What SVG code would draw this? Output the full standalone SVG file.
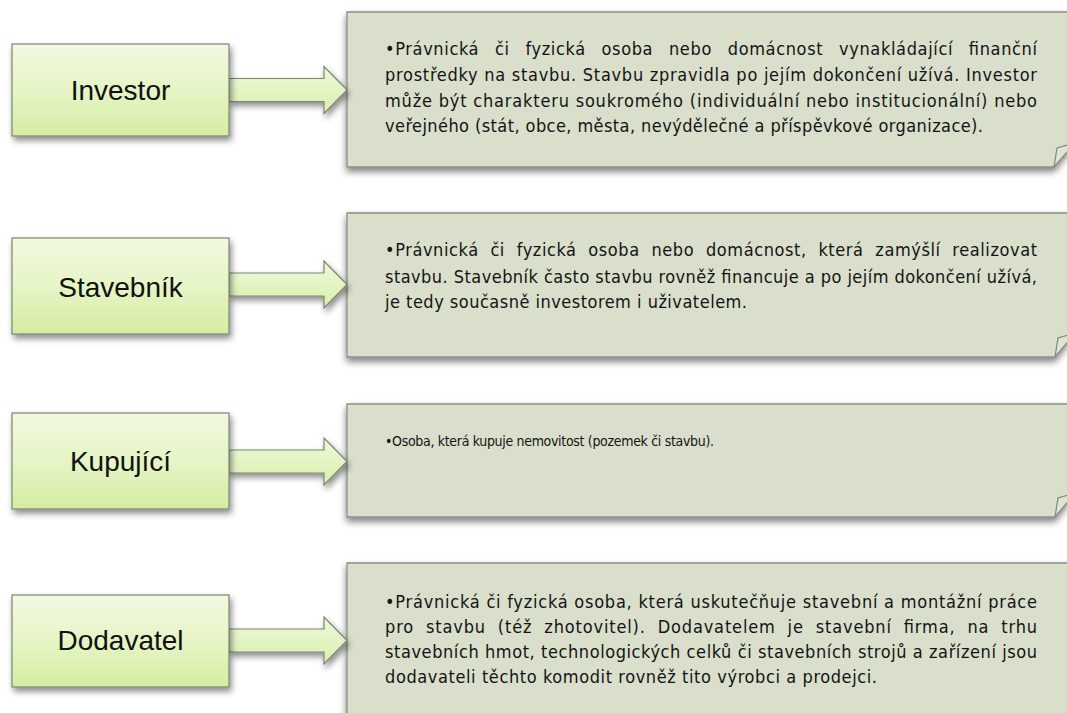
<svg xmlns="http://www.w3.org/2000/svg" width="1067" height="713" viewBox="0 0 1067 713">
  <defs>
    <linearGradient id="labelFill" x1="0" y1="0" x2="0" y2="1">
      <stop offset="0" stop-color="#f1f9e1"/>
      <stop offset="0.5" stop-color="#e6f5c6"/>
      <stop offset="1" stop-color="#d4eda2"/>
    </linearGradient>
    <linearGradient id="arrowFill" x1="0" y1="0" x2="0" y2="1">
      <stop offset="0" stop-color="#eef8da"/>
      <stop offset="1" stop-color="#d9f0ad"/>
    </linearGradient>
    <filter id="shadow" x="-10%" y="-20%" width="130%" height="160%">
      <feDropShadow dx="2" dy="4" stdDeviation="3" flood-color="#000" flood-opacity="0.45"/>
    </filter>
    <filter id="noteShadow" x="-5%" y="-10%" width="115%" height="130%">
      <feDropShadow dx="0" dy="4" stdDeviation="3.5" flood-color="#000" flood-opacity="0.5"/>
    </filter>
  </defs>
  <style>
    .label { fill: url(#labelFill); stroke: #7b8670; stroke-width: 1.2; filter: url(#shadow); }
    .arrow { fill: url(#arrowFill); stroke: #7b8670; stroke-width: 1.2; filter: url(#shadow); }
    .note { fill: #d9dfcb; stroke: #8b8e86; stroke-width: 1.3; filter: url(#noteShadow); }
    .fold { fill: #dfe4d3; stroke: #85877f; stroke-width: 1.2; }
    .lt { font-family: "Liberation Sans", Arial, sans-serif; font-size: 28px; fill: #111; text-anchor: middle; }
    .nt { font-family: "DejaVu Sans Condensed", "DejaVu Sans", sans-serif; font-stretch: condensed; font-size: 18px; fill: #141414; }
    .small { font-size: 14px; }
  </style>

  <rect width="1067" height="713" fill="#ffffff"/>

  <!-- description panels -->
  <g id="note-investor">
    <path class="note" d="M347,12 H1075 V141 L1054,167 H347 Z"/>
    <path class="fold" d="M1054,167 L1057,148 L1075,143 Z"/>
    <text class="nt" x="385" y="55" word-spacing="10" textLength="652" lengthAdjust="spacing">•Právnická či fyzická osoba nebo domácnost vynakládající finanční</text>
    <text class="nt" x="385" y="81" textLength="652" lengthAdjust="spacing">prostředky na stavbu. Stavbu zpravidla po jejím dokončení užívá. Investor</text>
    <text class="nt" x="385" y="106.5" textLength="652" lengthAdjust="spacing">může být charakteru soukromého (individuální nebo institucionální) nebo</text>
    <text class="nt" x="385" y="132" textLength="598" lengthAdjust="spacing">veřejného (stát, obce, města, nevýdělečné a příspěvkové organizace).</text>
  </g>

  <g id="note-stavebnik">
    <path class="note" d="M347,213 H1075 V331 L1055,357 H347 Z"/>
    <path class="fold" d="M1055,357 L1058,338 L1075,333 Z"/>
    <text class="nt" x="385" y="256" word-spacing="6" textLength="652" lengthAdjust="spacing">•Právnická či fyzická osoba nebo domácnost, která zamýšlí realizovat</text>
    <text class="nt" x="385" y="283" textLength="652" lengthAdjust="spacing">stavbu. Stavebník často stavbu rovněž financuje a po jejím dokončení užívá,</text>
    <text class="nt" x="385" y="308" textLength="362" lengthAdjust="spacing">je tedy současně investorem i uživatelem.</text>
  </g>

  <g id="note-kupujici">
    <path class="note" d="M347,404 H1075 V491 L1055,517 H347 Z"/>
    <path class="fold" d="M1055,517 L1058,498 L1075,493 Z"/>
    <text class="nt small" x="385" y="446" textLength="329" lengthAdjust="spacing">•Osoba, která kupuje nemovitost (pozemek či stavbu).</text>
  </g>

  <g id="note-dodavatel">
    <path class="note" d="M347,563 H1075 V760 H347 Z"/>
    <text class="nt" x="385" y="608" textLength="652" lengthAdjust="spacing">•Právnická či fyzická osoba, která uskutečňuje stavební a montážní práce</text>
    <text class="nt" x="385" y="633" word-spacing="6" textLength="652" lengthAdjust="spacing">pro stavbu (též zhotovitel). Dodavatelem je stavební firma, na trhu</text>
    <text class="nt" x="385" y="658" textLength="652" lengthAdjust="spacing">stavebních hmot, technologických celků či stavebních strojů a zařízení jsou</text>
    <text class="nt" x="385" y="683" textLength="492" lengthAdjust="spacing">dodavateli těchto komodit rovněž tito výrobci a prodejci.</text>
  </g>

  <!-- block arrows from each role to its panel -->
  <g id="connectors">
    <path class="arrow" d="M229,78.5 H324 V66.5 L347,90 L324,113.5 V101.5 H229 Z"/>
    <path class="arrow" d="M229,273 H324 V261 L347,284.5 L324,308 V296 H229 Z"/>
    <path class="arrow" d="M229,450 H324 V438 L347,461.5 L324,485 V473 H229 Z"/>
    <path class="arrow" d="M229,629 H324 V617 L347,640.5 L324,664 V652 H229 Z"/>
  </g>

  <!-- role boxes -->
  <g id="investor">
    <rect class="label" x="12" y="44" width="217" height="92"/>
    <text class="lt" x="120.5" y="99.5">Investor</text>
  </g>
  <g id="stavebnik">
    <rect class="label" x="12" y="238" width="217" height="96"/>
    <text class="lt" x="120.5" y="296.5">Stavebník</text>
  </g>
  <g id="kupujici">
    <rect class="label" x="12" y="413" width="217" height="96"/>
    <text class="lt" x="120.5" y="471">Kupující</text>
  </g>
  <g id="dodavatel">
    <rect class="label" x="12" y="595" width="217" height="92"/>
    <text class="lt" x="120.5" y="649.5">Dodavatel</text>
  </g>
</svg>
